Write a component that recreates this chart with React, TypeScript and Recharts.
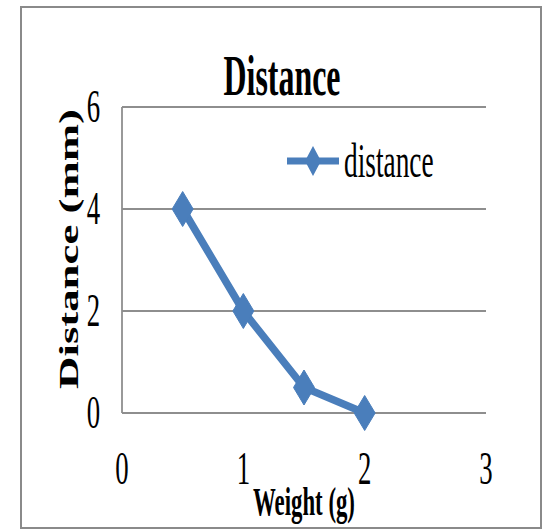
import React from 'react';
import {
  CartesianGrid,
  Customized,
  Line,
  LineChart,
  XAxis,
  YAxis,
} from 'recharts';

// source chart is stretched vertically, text gets squeezed to match
const SQUEEZE = 0.57;
const FONT = '"Liberation Serif", "Times New Roman", serif';
const BLUE = '#4a7ebb';
const GRID = '#8e8e8e';

const weights = [0.5, 1, 1.5, 2];
const distances = [4, 2, 0.5, 0];
const xTicks = [0, 1, 2, 3];
const yTicks = [0, 2, 4, 6];
const seriesName = 'distance';

const data = weights.map((w, i) => ({ weight: w, distance: distances[i] }));

function Squeezed({ x, y, size, bold, anchor = 'middle', children }: any) {
  return (
    <text
      transform={`translate(${x},${y}) scale(${SQUEEZE},1)`}
      textAnchor={anchor}
      fontFamily={FONT}
      fontSize={size}
      fontWeight={bold ? 'bold' : 'normal'}
      fill="#000"
    >
      {children}
    </text>
  );
}

function XTick({ x, y, payload }: any) {
  return (
    <Squeezed x={x} y={y + 71} size={47}>
      {payload.value}
    </Squeezed>
  );
}

function YTick({ x, y, payload }: any) {
  return (
    <Squeezed x={x - 28.5} y={y + 15} size={47}>
      {payload.value}
    </Squeezed>
  );
}

function diamondPoints(cx: number, cy: number, w: number, h: number) {
  return `${cx},${cy - h} ${cx + w},${cy} ${cx},${cy + h} ${cx - w},${cy}`;
}

function Diamond({ cx, cy }: any) {
  if (cx == null || cy == null) return null;
  return <polygon points={diamondPoints(cx, cy, 10.5, 17.5)} fill={BLUE} stroke={BLUE} strokeWidth={1} />;
}

function XLabel({ viewBox }: any) {
  const { x, y, width } = viewBox;
  return (
    <Squeezed x={x + width / 2} y={y + 102} size={40} bold>
      Weight (g)
    </Squeezed>
  );
}

function YLabel() {
  return (
    <text
      transform="translate(78,249) rotate(-90) scale(1.6,1)"
      textAnchor="middle"
      fontFamily={FONT}
      fontSize={28}
      fontWeight="bold"
      fill="#000"
    >
      Distance (mm)
    </text>
  );
}

function Title() {
  return (
    <Squeezed x={282} y={95} size={56} bold>
      Distance
    </Squeezed>
  );
}

function LegendBox() {
  const lx = 287;
  const ly = 161;
  return (
    <g>
      <line x1={lx} y1={ly} x2={lx + 52} y2={ly} stroke={BLUE} strokeWidth={7} />
      <polygon points={diamondPoints(lx + 26, ly, 8, 15)} fill={BLUE} />
      <Squeezed x={lx + 57} y={ly + 16} size={48} anchor="start">
        {seriesName}
      </Squeezed>
    </g>
  );
}

export default function App() {
  return (
    <div style={{ position: 'absolute', left: 0, top: 0, width: 544, height: 529, background: '#fff' }}>
      <div
        style={{
          position: 'absolute',
          left: 20,
          top: 6,
          width: 522,
          height: 523,
          border: '2.5px solid #8a8a8a',
          boxSizing: 'border-box',
        }}
      />
      <LineChart
        width={544}
        height={529}
        data={data}
        margin={{ top: 107, right: 58, bottom: 56, left: 0 }}
      >
        <CartesianGrid vertical={false} stroke={GRID} strokeWidth={1.8} />
        <XAxis
          dataKey="weight"
          type="number"
          domain={[0, 3]}
          ticks={xTicks}
          axisLine={false}
          tickLine={false}
          tickSize={0}
          tickMargin={0}
          height={60}
          tick={<XTick />}
          label={<XLabel />}
        />
        <YAxis
          type="number"
          domain={[0, 6]}
          ticks={yTicks}
          width={122}
          axisLine={{ stroke: GRID, strokeWidth: 1.8 }}
          tickLine={false}
          tickSize={0}
          tickMargin={0}
          tick={<YTick />}
        />
        <Line
          dataKey="distance"
          name={seriesName}
          stroke={BLUE}
          strokeWidth={7.5}
          dot={<Diamond />}
          activeDot={false}
          isAnimationActive={false}
        />
        <Customized component={<Title />} />
        <Customized component={<YLabel />} />
        <Customized component={<LegendBox />} />
      </LineChart>
    </div>
  );
}
